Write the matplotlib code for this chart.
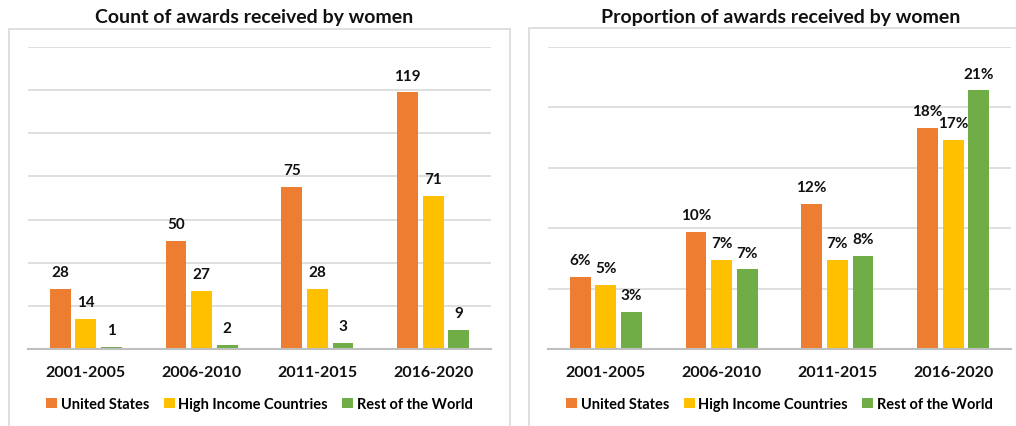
import numpy as np
import matplotlib.pyplot as plt
from matplotlib.patches import Patch, Rectangle

# ------------------------------
# Daten
# ------------------------------
periods = ['2001-2005', '2006-2010', '2011-2015', '2016-2020']
series = ['United States', 'High Income Countries', 'Rest of the World']
colors = ['#ED7D31', '#FFC000', '#70AD47']

count_us = [28, 50, 75, 119]
count_hi = [14, 27, 28, 71]
count_row = [1, 2, 3, 9]

share_us = [5.96, 9.7, 12.0, 18.3]
share_hi = [5.3, 7.4, 7.4, 17.3]
share_row = [3.1, 6.6, 7.7, 21.4]

plt.rcParams['font.family'] = ['Lato', 'DejaVu Sans']
plt.rcParams['font.weight'] = 'bold'

fig = plt.figure(figsize=(10.16, 4.27), dpi=100)

# Rahmen um beide Diagramme
fig.add_artist(Rectangle((9 / 1016, -0.05), 501 / 1016, 1 - 30 / 427 + 0.05,
                         transform=fig.transFigure, fill=False,
                         edgecolor='#D9D9D9', linewidth=1.2))
fig.add_artist(Rectangle((529 / 1016, -0.05), 500 / 1016, 1 - 29 / 427 + 0.05,
                         transform=fig.transFigure, fill=False,
                         edgecolor='#D9D9D9', linewidth=1.2))


def panel(ax_left, values, ymax, step, fmt, title, title_x):
    ax = fig.add_axes([ax_left / 1016, 77 / 427, 463 / 1016, 302 / 427])
    x = np.arange(len(periods))
    offsets = [-0.222, 0.0, 0.222]
    for vals, off, col in zip(values, offsets, colors):
        bars = ax.bar(x + off, vals, width=0.18, color=col,
                      edgecolor='none', zorder=3)
        for b, v in zip(bars, vals):
            ax.annotate(fmt(v), (b.get_x() + b.get_width() / 2, v),
                        xytext=(0, 7), textcoords='offset points',
                        ha='center', va='bottom', fontsize=11,
                        fontweight='bold', color='#111111')
    ax.set_xlim(-0.5, len(periods) - 0.5)
    ax.set_ylim(0, ymax)
    ax.set_yticks(np.arange(0, ymax + step / 2, step))
    ax.yaxis.grid(True, color='#D9D9D9', linewidth=1.2, zorder=0)
    ax.tick_params(axis='y', left=False, labelleft=False)
    ax.tick_params(axis='x', bottom=False, pad=8, labelsize=11.5)
    ax.set_xticks(x)
    ax.set_xticklabels(periods, fontweight='bold', color='#111111')
    for s in ['top', 'right', 'left']:
        ax.spines[s].set_visible(False)
    ax.spines['bottom'].set_color('#BFBFBF')
    ax.spines['bottom'].set_linewidth(1.5)
    ax.spines['bottom'].set_zorder(4)
    fig.text(title_x / 1016, 1 - 17 / 427, title, ha='center', va='center',
             fontsize=14, fontweight='bold', color='#111111')
    handles = [Patch(facecolor=c, label=s) for c, s in zip(colors, series)]
    fig.legend(handles=handles, loc='center',
               bbox_to_anchor=((ax_left + 463 / 2) / 1016, 1 - 405 / 427),
               ncol=3, frameon=False, handlelength=0.75,
               handleheight=0.75, handletextpad=0.25, columnspacing=1.0,
               prop={'weight': 'bold', 'size': 10.5})
    return ax


panel(28, [count_us, count_hi, count_row], 140, 20,
      lambda v: f'{v:d}', 'Count of awards received by women', 254)
panel(548, [share_us, share_hi, share_row], 25, 5,
      lambda v: f'{round(v):d}%', 'Proportion of awards received by women', 781)

fig.savefig('out.png', dpi=100)
